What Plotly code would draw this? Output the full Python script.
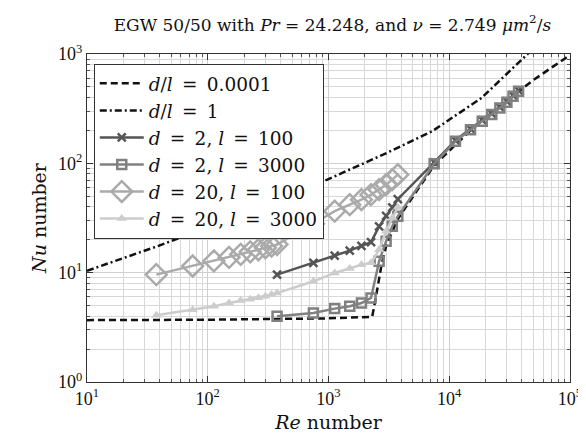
import plotly.graph_objects as go

# ---- data ----
re_lam = [10, 100, 1000, 2300, 2450, 2750, 3000, 3750, 7500, 15000, 37500, 50000, 100000]
nu_dl_small = [3.68, 3.71, 3.82, 3.95, 5.7, 11.8, 17.5, 31, 96, 200, 452, 580, 980]

re_rough = [10, 20, 38, 100, 300, 977, 2830, 7240, 18500, 39200, 50000]
nu_dl_one = [10.4, 13.6, 17.4, 26, 42, 71, 120, 197, 396, 859, 1130]

re_d2 = [375, 750, 1125, 1500, 1875, 2250, 2625, 3000, 3375, 3750,
         7500, 11250, 15000, 18750, 22500, 26250, 30000, 33750, 37500]
nu_d2_l100 = [9.6, 12.3, 14.3, 15.9, 17.6, 19.0, 26.5, 33.0, 39.5, 47.0,
              102, 162, 207, 248, 285, 327, 369, 419, 466]
nu_d2_l3000 = [4.0, 4.28, 4.69, 4.93, 5.28, 5.87, 12.7, 19.4, 26.6, 32.8,
               99, 159, 203, 243, 279, 321, 362, 411, 457]

re_d20 = [37.5, 75, 112.5, 150, 187.5, 225, 262.5, 300, 337.5, 375,
          750, 1125, 1500, 1875, 2250, 2625, 3000, 3375, 3750]
nu_d20_l100 = [9.6, 11.5, 12.8, 13.8, 14.7, 15.5, 16.2, 16.9, 17.5, 18.1,
               28.0, 36.5, 41.9, 46.5, 51.7, 57.4, 63.8, 71.0, 78.8]
nu_d20_l3000 = [4.08, 4.59, 4.93, 5.28, 5.55, 5.7, 5.9, 6.1, 6.3, 6.5,
                8.34, 9.94, 10.9, 11.8, 12.3, 16.2, 23.9, 31.7, 39.6]

x_tickvals = [10, 100, 1000, 10000, 100000]
x_ticktext = ["10<sup>1</sup>", "10<sup>2</sup>", "10<sup>3</sup>", "10<sup>4</sup>", "10<sup>5</sup>"]
y_tickvals = [1, 10, 100, 1000]
y_ticktext = ["10<sup>0</sup>", "10<sup>1</sup>", "10<sup>2</sup>", "10<sup>3</sup>"]

E = "\u2002"
FONT = "Liberation Serif"
WIDE = "DejaVu Serif"

fig = go.Figure()
fig.add_trace(go.Scatter(x=re_lam, y=nu_dl_small, mode="lines",
                         name=f"<i>d</i>/<i>l</i>{E}={E}0.0001",
                         line=dict(color="#111111", width=2.5, dash="7px,4px")))
fig.add_trace(go.Scatter(x=re_rough, y=nu_dl_one, mode="lines",
                         name=f"<i>d</i>/<i>l</i>{E}={E}1",
                         line=dict(color="#111111", width=2.5, dash="7px,3px,2px,3px")))
fig.add_trace(go.Scatter(x=re_d2, y=nu_d2_l100, mode="lines+markers",
                         name=f"<i>d</i>{E}={E}2, <i>l</i>{E}={E}100",
                         line=dict(color="#555555", width=2.5),
                         marker=dict(symbol="x-thin", size=8, line=dict(color="#555555", width=2.5))))
fig.add_trace(go.Scatter(x=re_d2, y=nu_d2_l3000, mode="lines+markers",
                         name=f"<i>d</i>{E}={E}2, <i>l</i>{E}={E}3000",
                         line=dict(color="#808080", width=2.5),
                         marker=dict(symbol="square-open", size=9, line=dict(color="#808080", width=2.5))))
fig.add_trace(go.Scatter(x=re_d20, y=nu_d20_l100, mode="lines+markers",
                         name=f"<i>d</i>{E}={E}20, <i>l</i>{E}={E}100",
                         line=dict(color="#aaaaaa", width=2.5),
                         marker=dict(symbol="diamond-open", size=16, line=dict(color="#aaaaaa", width=2.5))))
fig.add_trace(go.Scatter(x=re_d20, y=nu_d20_l3000, mode="lines+markers",
                         name=f"<i>d</i>{E}={E}20, <i>l</i>{E}={E}3000",
                         line=dict(color="#cccccc", width=2.5),
                         marker=dict(symbol="triangle-up", size=9, color="#cccccc")))

axis_common = dict(
    type="log", showline=True, linecolor="#333333", linewidth=1, mirror="allticks",
    ticks="inside", ticklen=6, tickcolor="#333333", showgrid=True, gridcolor="#cfcfcf", gridwidth=1,
    zeroline=False, ticklabeloverflow="allow",
    minor=dict(ticks="inside", ticklen=3, tickcolor="#555555", showgrid=True, gridcolor="#d8d8d8", gridwidth=1, dtick="D1"),
    tickfont=dict(family=FONT, size=18, color="#111111"),
)

fig.update_layout(
    width=586, height=439,
    margin=dict(l=79, r=16, t=46, b=65),
    paper_bgcolor="white", plot_bgcolor="white",
    font=dict(family=FONT, color="#111111"),
    title=dict(text=f"EGW 50/50 with <i>Pr</i> = 24.248, and <i>ν</i> = 2.749 <i>μm</i><sup>2</sup>/<i>s</i>",
               x=0.5536, xanchor="center", y=0.962, yanchor="middle", font=dict(family=WIDE, size=17)),
    xaxis=dict(**axis_common, range=[1, 5], tickvals=x_tickvals, ticktext=x_ticktext,
               title=dict(text="<i>Re</i> number", font=dict(family=WIDE, size=19), standoff=8)),
    yaxis=dict(**axis_common, range=[0, 3], tickvals=y_tickvals, ticktext=y_ticktext,
               title=dict(text="<i>Nu</i> number", font=dict(family=WIDE, size=19), standoff=6)),
    legend=dict(x=0.014, y=0.97, xanchor="left", yanchor="top",
                bgcolor="white", bordercolor="#333333", borderwidth=1,
                font=dict(family=WIDE, size=18.5), tracegroupgap=0, itemwidth=44),
    showlegend=True,
)

fig.write_html("out.html")
